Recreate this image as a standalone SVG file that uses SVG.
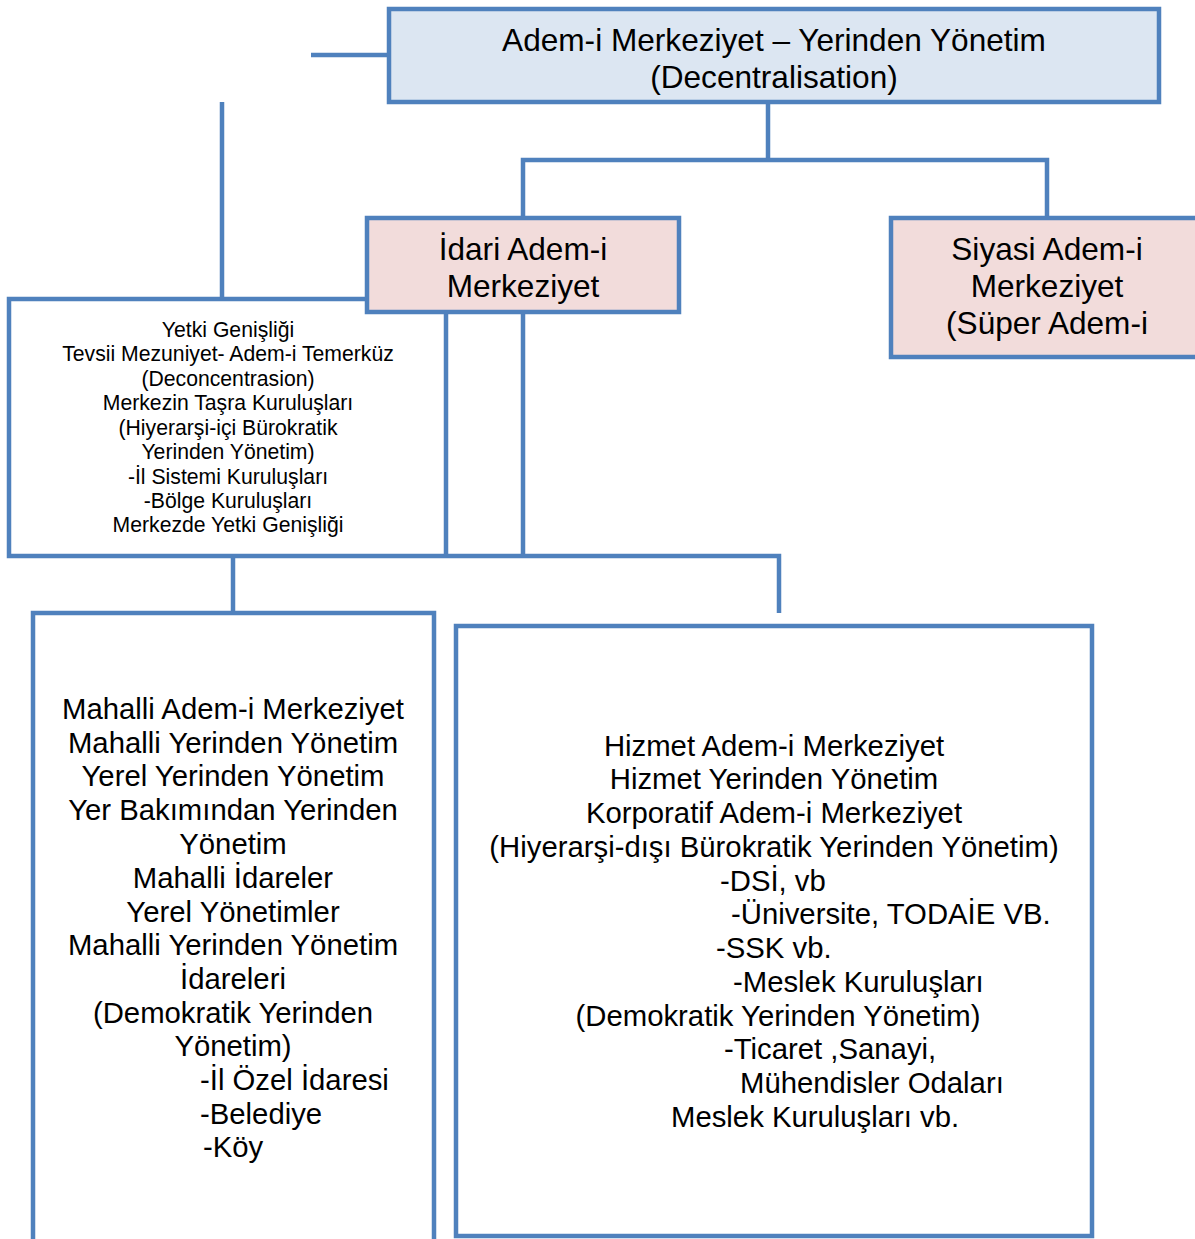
<svg xmlns="http://www.w3.org/2000/svg" width="1195" height="1239" viewBox="0 0 1195 1239">
<style>
.box{stroke:#4f81bd;stroke-width:4.5}
.ln{stroke:#4f81bd;stroke-width:4.5;fill:none}
.t{font-family:"Liberation Sans",Arial,sans-serif;fill:#000}
.big{font-size:31.6px}
.mid{font-size:29.3px}
.sm{font-size:21.2px}
.c{text-anchor:middle}
</style>
<rect width="1195" height="1239" fill="#fff"/>
<g id="yetki">
<path class="box" d="M369,299 H9 V556 H446" fill="#fff"/>
<text class="t sm c" x="228" y="337">Yetki Genişliği</text>
<text class="t sm c" x="228" y="361">Tevsii Mezuniyet- Adem-i Temerküz</text>
<text class="t sm c" x="228" y="386">(Deconcentrasion)</text>
<text class="t sm c" x="228" y="410">Merkezin Taşra Kuruluşları</text>
<text class="t sm c" x="228" y="435">(Hiyerarşi-içi Bürokratik</text>
<text class="t sm c" x="228" y="459">Yerinden Yönetim)</text>
<text class="t sm c" x="228" y="484">-İl Sistemi Kuruluşları</text>
<text class="t sm c" x="228" y="508">-Bölge Kuruluşları</text>
<text class="t sm c" x="228" y="532">Merkezde Yetki Genişliği</text>
</g>
<g id="connectors">
<line class="ln" x1="311" y1="55" x2="389" y2="55"/>
<line class="ln" x1="222" y1="102" x2="222" y2="299"/>
<polyline class="ln" points="768,102 768,160"/>
<polyline class="ln" points="523,218 523,160 1047,160 1047,218"/>
<line class="ln" x1="446" y1="312" x2="446" y2="556"/>
<line class="ln" x1="523" y1="312" x2="523" y2="556"/>
<polyline class="ln" points="446,556 779,556 779,613"/>
<line class="ln" x1="233" y1="556" x2="233" y2="613"/>
</g>
<g id="top">
<rect class="box" x="389" y="9" width="770" height="93" fill="#dce6f2"/>
<text class="t big c" x="774" y="51">Adem-i Merkeziyet – Yerinden Yönetim</text>
<text class="t big c" x="774" y="88">(Decentralisation)</text>
</g>
<g id="idari">
<rect class="box" x="367" y="218" width="312" height="94" fill="#f2dcdb"/>
<text class="t big c" x="523" y="260">İdari Adem-i</text>
<text class="t big c" x="523" y="297">Merkeziyet</text>
</g>
<g id="siyasi">
<path class="box" d="M1197,218 H891 V357 H1197" fill="#f2dcdb"/>
<text class="t big c" x="1047" y="260">Siyasi Adem-i</text>
<text class="t big c" x="1047" y="297">Merkeziyet</text>
<text class="t big c" x="1047" y="334">(Süper Adem-i</text>
</g>
<g id="mahalli">
<path class="box" d="M33,1241 V613 H434 V1241" fill="#fff"/>
<g class="t mid">
<text class="c" x="233" y="719">Mahalli Adem-i Merkeziyet</text>
<text class="c" x="233" y="753">Mahalli Yerinden Yönetim</text>
<text class="c" x="233" y="786">Yerel Yerinden Yönetim</text>
<text class="c" x="233" y="820">Yer Bakımından Yerinden</text>
<text class="c" x="233" y="854">Yönetim</text>
<text class="c" x="233" y="888">Mahalli İdareler</text>
<text class="c" x="233" y="922">Yerel Yönetimler</text>
<text class="c" x="233" y="955">Mahalli Yerinden Yönetim</text>
<text class="c" x="233" y="989">İdareleri</text>
<text class="c" x="233" y="1023">(Demokratik Yerinden</text>
<text class="c" x="233" y="1056">Yönetim)</text>
<text x="200" y="1090">-İl Özel İdaresi</text>
<text x="200" y="1124">-Belediye</text>
<text x="203" y="1157">-Köy</text>
</g>
</g>
<g id="hizmet">
<rect class="box" x="456" y="626" width="636" height="610" fill="#fff"/>
<g class="t mid">
<text class="c" x="774" y="756">Hizmet Adem-i Merkeziyet</text>
<text class="c" x="774" y="789">Hizmet Yerinden Yönetim</text>
<text class="c" x="774" y="823">Korporatif Adem-i Merkeziyet</text>
<text class="c" x="774" y="857">(Hiyerarşi-dışı Bürokratik Yerinden Yönetim)</text>
<text x="720" y="891">-DSİ, vb</text>
<text x="731" y="924">-Üniversite, TODAİE VB.</text>
<text x="716" y="958">-SSK vb.</text>
<text x="733" y="992">-Meslek Kuruluşları</text>
<text class="c" x="778" y="1026">(Demokratik Yerinden Yönetim)</text>
<text x="724" y="1059">-Ticaret ,Sanayi,</text>
<text x="740" y="1093">Mühendisler Odaları</text>
<text x="671" y="1127">Meslek Kuruluşları vb.</text>
</g>
</g>
</svg>
